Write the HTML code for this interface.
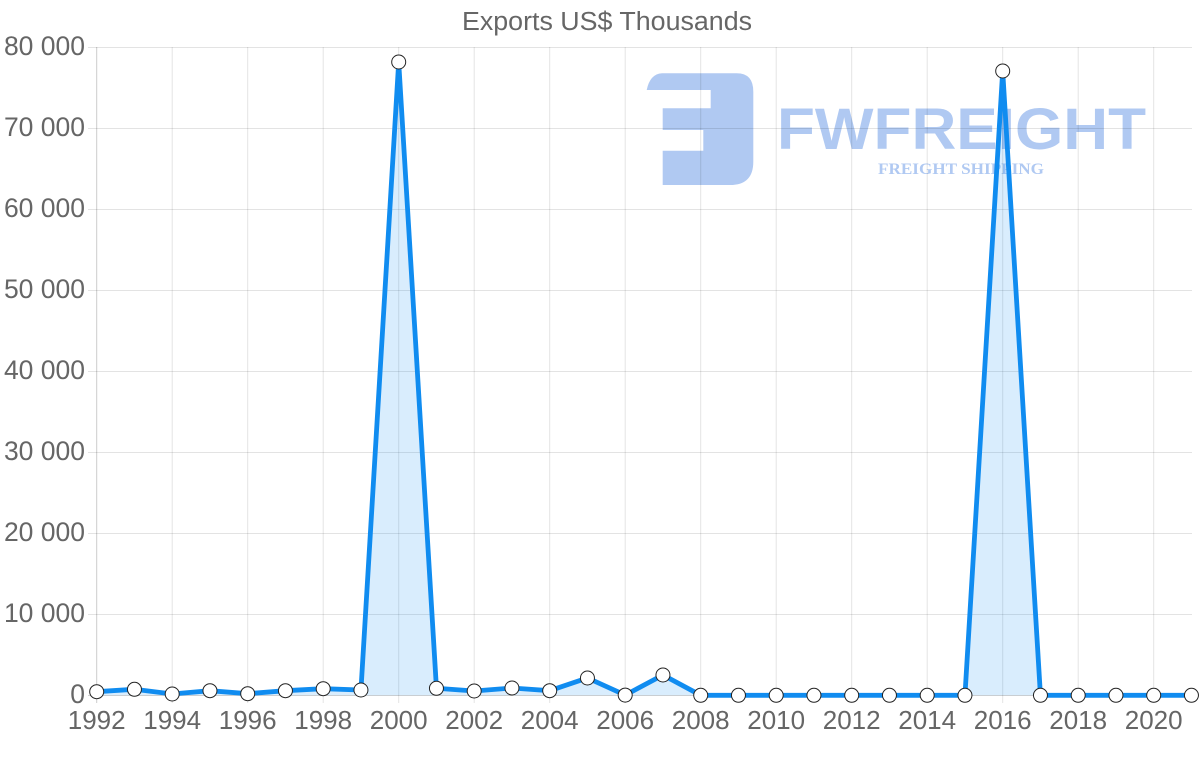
<!DOCTYPE html>
<html>
<head>
<meta charset="utf-8">
<style>
html,body{margin:0;padding:0;background:#fff;}
svg{display:block;}
text{font-family:"Liberation Sans",Arial,sans-serif;fill:#666;}
</style>
</head>
<body>
<svg width="1200" height="763" viewBox="0 0 1200 763" xmlns="http://www.w3.org/2000/svg">
  <!-- Title -->
  <text x="607" y="30" font-size="25.5" text-anchor="middle" textLength="290" lengthAdjust="spacingAndGlyphs">Exports US$ Thousands</text>

  <!-- Watermark -->
  <g fill="#b0c9f2">
    <path d="M646.7,90 Q650,74 662,73.3 L736.7,73.3 Q753.3,73.3 753.3,91.7 L753.3,161.7 Q753.3,185 730,185 L662.7,185 L662.7,150.7 L703.3,150.7 L703.3,130 L662.7,130 L662.7,108.3 L710.7,108.3 L710.7,90 Z"/>
    <text x="777" y="149" font-size="58" font-weight="bold" textLength="369" lengthAdjust="spacingAndGlyphs" style="fill:#b0c9f2">FWFREIGHT</text>
    <text x="878" y="174" font-size="15.5" font-weight="bold" textLength="166" lengthAdjust="spacingAndGlyphs" style="fill:#b0c9f2;font-family:'Liberation Serif',serif">FREIGHT SHIPPING</text>
  </g>

  <!-- Horizontal grid lines -->
  <g stroke="#000" stroke-opacity="0.11" stroke-width="1">
    <line x1="88" y1="47.5" x2="1192" y2="47.5"/>
    <line x1="88" y1="128.5" x2="1192" y2="128.5"/>
    <line x1="88" y1="209.5" x2="1192" y2="209.5"/>
    <line x1="88" y1="290.5" x2="1192" y2="290.5"/>
    <line x1="88" y1="371.5" x2="1192" y2="371.5"/>
    <line x1="88" y1="452.5" x2="1192" y2="452.5"/>
    <line x1="88" y1="533.5" x2="1192" y2="533.5"/>
    <line x1="88" y1="614.5" x2="1192" y2="614.5"/>
  </g>
  <line x1="88" y1="695.5" x2="1192" y2="695.5" stroke="#000" stroke-opacity="0.18"/>
  <!-- Vertical grid lines -->
  <g stroke="#000" stroke-opacity="0.11" stroke-width="1">
    <line x1="172.2" y1="47" x2="172.2" y2="703"/>
    <line x1="247.7" y1="47" x2="247.7" y2="703"/>
    <line x1="323.2" y1="47" x2="323.2" y2="703"/>
    <line x1="398.7" y1="47" x2="398.7" y2="703"/>
    <line x1="474.2" y1="47" x2="474.2" y2="703"/>
    <line x1="549.7" y1="47" x2="549.7" y2="703"/>
    <line x1="625.2" y1="47" x2="625.2" y2="703"/>
    <line x1="700.7" y1="47" x2="700.7" y2="703"/>
    <line x1="776.2" y1="47" x2="776.2" y2="703"/>
    <line x1="851.7" y1="47" x2="851.7" y2="703"/>
    <line x1="927.2" y1="47" x2="927.2" y2="703"/>
    <line x1="1002.7" y1="47" x2="1002.7" y2="703"/>
    <line x1="1078.2" y1="47" x2="1078.2" y2="703"/>
    <line x1="1153.7" y1="47" x2="1153.7" y2="703"/>
  </g>
  <line x1="96.7" y1="47" x2="96.7" y2="703" stroke="#000" stroke-opacity="0.2"/>

  <!-- Y tick labels -->
  <g font-size="26.5" text-anchor="end">
    <text x="85" y="55">80 000</text>
    <text x="85" y="136">70 000</text>
    <text x="85" y="217">60 000</text>
    <text x="85" y="298">50 000</text>
    <text x="85" y="379">40 000</text>
    <text x="85" y="460">30 000</text>
    <text x="85" y="541">20 000</text>
    <text x="85" y="622">10 000</text>
    <text x="85" y="703">0</text>
  </g>
  <!-- X tick labels -->
  <g font-size="26" text-anchor="middle">
    <text x="96.7" y="729">1992</text>
    <text x="172.2" y="729">1994</text>
    <text x="247.7" y="729">1996</text>
    <text x="323.2" y="729">1998</text>
    <text x="398.7" y="729">2000</text>
    <text x="474.2" y="729">2002</text>
    <text x="549.7" y="729">2004</text>
    <text x="625.2" y="729">2006</text>
    <text x="700.7" y="729">2008</text>
    <text x="776.2" y="729">2010</text>
    <text x="851.7" y="729">2012</text>
    <text x="927.2" y="729">2014</text>
    <text x="1002.7" y="729">2016</text>
    <text x="1078.2" y="729">2018</text>
    <text x="1153.7" y="729">2020</text>
  </g>

  <!-- Area fill -->
  <path fill="#108cf0" fill-opacity="0.16" d="M96.7,695.3 L96.7,691.7 L134.45,689.3 L172.2,694 L209.95,690.7 L247.7,693.7 L285.45,690.7 L323.2,688.7 L360.95,690 L398.7,62 L436.45,688.3 L474.2,691 L511.95,688 L549.7,690.7 L587.45,678 L625.2,695.1 L662.95,675 L700.7,695.3 L964.95,695.3 L1002.7,71 L1040.45,695.3 L1191.45,695.3 Z"/>
  <!-- Line -->
  <polyline fill="none" stroke="#108cf0" stroke-width="4.8" stroke-linejoin="miter" stroke-miterlimit="4" points="96.7,691.7 134.45,689.3 172.2,694 209.95,690.7 247.7,693.7 285.45,690.7 323.2,688.7 360.95,690 398.7,62 436.45,688.3 474.2,691 511.95,688 549.7,690.7 587.45,678 625.2,695.1 662.95,675 700.7,695.3 738.45,695.3 776.2,695.3 813.95,695.3 851.7,695.3 889.45,695.3 927.2,695.3 964.95,695.3 1002.7,71 1040.45,695.3 1078.2,695.3 1115.95,695.3 1153.7,695.3 1191.45,695.3"/>
  <!-- Points -->
  <g fill="#fff" stroke="#222" stroke-width="1">
    <circle cx="96.7" cy="691.7" r="7"/>
    <circle cx="134.45" cy="689.3" r="7"/>
    <circle cx="172.2" cy="694" r="7"/>
    <circle cx="209.95" cy="690.7" r="7"/>
    <circle cx="247.7" cy="693.7" r="7"/>
    <circle cx="285.45" cy="690.7" r="7"/>
    <circle cx="323.2" cy="688.7" r="7"/>
    <circle cx="360.95" cy="690" r="7"/>
    <circle cx="398.7" cy="62" r="7"/>
    <circle cx="436.45" cy="688.3" r="7"/>
    <circle cx="474.2" cy="691" r="7"/>
    <circle cx="511.95" cy="688" r="7"/>
    <circle cx="549.7" cy="690.7" r="7"/>
    <circle cx="587.45" cy="678" r="7"/>
    <circle cx="625.2" cy="695.1" r="7"/>
    <circle cx="662.95" cy="675" r="7"/>
    <circle cx="700.7" cy="695.3" r="7"/>
    <circle cx="738.45" cy="695.3" r="7"/>
    <circle cx="776.2" cy="695.3" r="7"/>
    <circle cx="813.95" cy="695.3" r="7"/>
    <circle cx="851.7" cy="695.3" r="7"/>
    <circle cx="889.45" cy="695.3" r="7"/>
    <circle cx="927.2" cy="695.3" r="7"/>
    <circle cx="964.95" cy="695.3" r="7"/>
    <circle cx="1002.7" cy="71" r="7"/>
    <circle cx="1040.45" cy="695.3" r="7"/>
    <circle cx="1078.2" cy="695.3" r="7"/>
    <circle cx="1115.95" cy="695.3" r="7"/>
    <circle cx="1153.7" cy="695.3" r="7"/>
    <circle cx="1191.45" cy="695.3" r="7"/>
  </g>
</svg>
</body>
</html>
